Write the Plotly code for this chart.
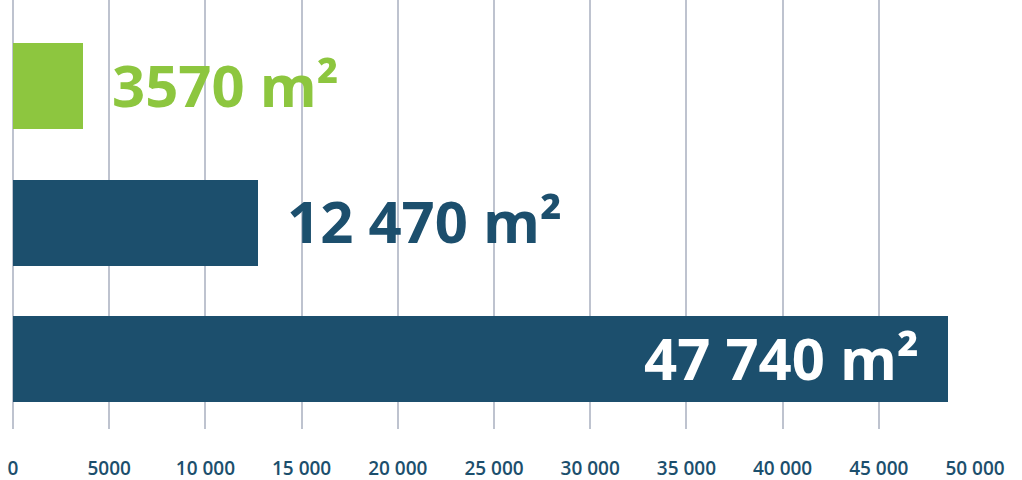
import plotly.graph_objects as go

categories = ["A", "B", "C"]
bar_values = [3640, 12730, 48600]
bar_labels = ["3570 m²", "12 470 m²", "47 740 m²"]
bar_colors = ["#8dc63f", "#1c4f6d", "#1c4f6d"]
label_colors = ["#8dc63f", "#1c4f6d", "#ffffff"]
label_inside = [False, False, True]
tick_vals = [0, 5000, 10000, 15000, 20000, 25000, 30000, 35000, 40000, 45000, 50000]
tick_text = ["0", "5000", "10 000", "15 000", "20 000", "25 000",
             "30 000", "35 000", "40 000", "45 000", "50 000"]

fig = go.Figure()
fig.add_trace(go.Bar(
    y=categories, x=bar_values, orientation="h",
    marker=dict(color=bar_colors, line=dict(width=0)),
    width=0.63, hoverinfo="skip",
))

for cat, val, lab, col, inside in zip(categories, bar_values, bar_labels, label_colors, label_inside):
    fig.add_annotation(
        x=val, y=cat, text=lab, showarrow=False,
        xanchor="right" if inside else "left",
        xshift=-27 if inside else 27,
        yshift=2,
        font=dict(family="Open Sans", size=58, color=col, weight="bold"),
    )

fig.update_layout(
    width=1022, height=480,
    margin=dict(l=13, r=47, t=0, b=51),
    paper_bgcolor="white", plot_bgcolor="white",
    showlegend=False,
    bargap=0,
)
fig.update_xaxes(
    range=[0, 50000], tickvals=tick_vals, ticktext=tick_text,
    showgrid=True, gridcolor="#bec3cf", gridwidth=2,
    zeroline=True, zerolinecolor="#bec3cf", zerolinewidth=2,
    showline=False, ticks="", ticklabelstandoff=26,
    tickfont=dict(family="Open Sans", size=19, color="#1c4f6d", weight=600),
    fixedrange=True,
)
fig.update_yaxes(
    categoryorder="array", categoryarray=categories,
    range=[2.51, -0.63], showticklabels=False, showgrid=False,
    zeroline=False, showline=False, ticks="", fixedrange=True,
)

fig.write_html(
    "out.html",
    config={"displayModeBar": False},
    post_script="document.body.style.margin='0';document.body.style.overflow='hidden';",
)
